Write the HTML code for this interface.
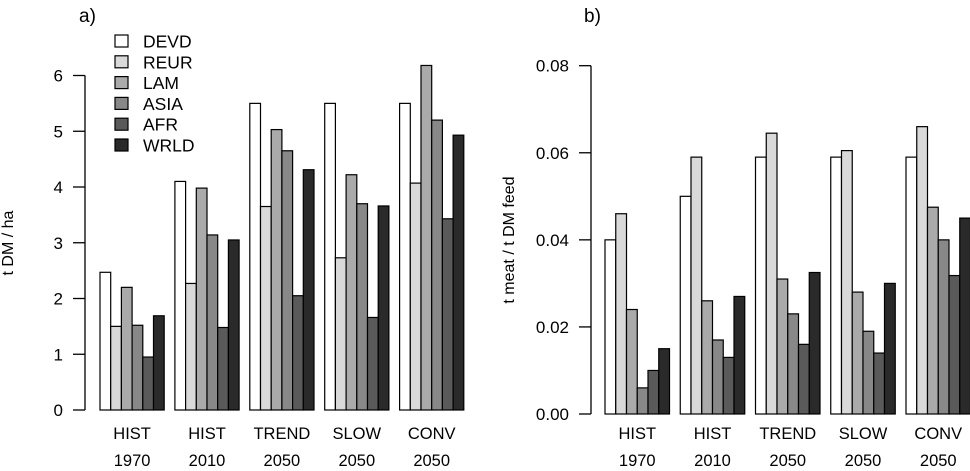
<!DOCTYPE html>
<html><head><meta charset="utf-8"><style>
body{margin:0;background:#fff}
svg text{font-family:"Liberation Sans",Arial,sans-serif;fill:#000}
</style></head><body>
<svg id="c" width="970" height="466" xmlns="http://www.w3.org/2000/svg"></svg>
<script>
const categories1=["HIST","HIST","TREND","SLOW","CONV"];
const categories2=["1970","2010","2050","2050","2050"];
const seriesNames=["DEVD","REUR","LAM","ASIA","AFR","WRLD"];
const yieldDEVD=[2.47,4.1,5.5,5.5,5.5];
const yieldREUR=[1.5,2.27,3.65,2.73,4.07];
const yieldLAM=[2.2,3.98,5.03,4.22,6.18];
const yieldASIA=[1.52,3.14,4.65,3.7,5.2];
const yieldAFR=[0.95,1.48,2.05,1.66,3.43];
const yieldWRLD=[1.69,3.05,4.31,3.66,4.93];
const effDEVD=[0.040,0.050,0.059,0.059,0.059];
const effREUR=[0.046,0.059,0.0645,0.0605,0.066];
const effLAM=[0.024,0.026,0.031,0.028,0.0475];
const effASIA=[0.006,0.017,0.023,0.019,0.040];
const effAFR=[0.010,0.013,0.016,0.014,0.0318];
const effWRLD=[0.015,0.027,0.0325,0.030,0.045];
const ticksA=["0","1","2","3","4","5","6"];
const ticksB=["0.00","0.02","0.04","0.06","0.08"];
const colors=["#ffffff","#d9d9d9","#aaaaaa","#888888","#5a5a5a","#2a2a2a"];
const svg=document.getElementById('c');
const NS="http://www.w3.org/2000/svg";
function mk(t,a,txt){const e=document.createElementNS(NS,t);for(const k in a)e.setAttribute(k,a[k]);if(txt!=null)e.textContent=txt;svg.appendChild(e);return e;}
function panel(p){
  const y=v=>p.y0-(v-p.vmin)/(p.vmax-p.vmin)*(p.y0-p.y1);
  const ax=mk('line',{x1:p.ax,x2:p.ax,y1:y(p.vmin),y2:y(p.vmax),stroke:'#000','stroke-width':1.3});
  
  
  p.ticks.forEach(t=>{
    const v=parseFloat(t);
    const tl=mk('line',{x1:p.ax-12,x2:p.ax,y1:y(v),y2:y(v),stroke:'#000','stroke-width':1.3});
    
    
    const tx=mk('text',{x:p.ax-22,y:y(v)+6,'text-anchor':'end','font-size':17},t);
    
    
  });
  const unit=p.unit;
  p.series.forEach((s,si)=>{
    s.forEach((v,gi)=>{
      const x=p.gx+gi*7*unit+si*unit;
      const r=mk('rect',{x:x,y:y(v),width:unit,height:y(p.vmin)-y(v),fill:colors[si],stroke:'#000','stroke-width':1.2});
      
      
    });
  });
  categories1.forEach((c,gi)=>{
    const cx=p.gx+gi*7*unit+3*unit;
    const t1=mk('text',{x:cx,y:439,'text-anchor':'middle','font-size':16.5},c);
    
    
    const t2=mk('text',{x:cx,y:466,'text-anchor':'middle','font-size':16.5},categories2[gi]);
    
    
  });
  const yt=mk('text',{x:p.tx,y:p.ty,'text-anchor':'middle','font-size':16,transform:'rotate(-90 '+p.tx+' '+p.ty+')'},p.title);
  
  
  const lb=mk('text',{x:p.lx,y:22,'font-size':19},p.label);
  
  
}
panel({id:'a',vmin:0,vmax:6,y0:410,y1:75.5,ax:85,gx:100,unit:10.7,ticks:ticksA,
  series:[yieldDEVD,yieldREUR,yieldLAM,yieldASIA,yieldAFR,yieldWRLD],title:'t DM / ha',tx:13,ty:243,label:'a)',lx:79});
panel({id:'b',vmin:0,vmax:0.08,y0:414,y1:65.7,ax:591,gx:605,unit:10.75,ticks:ticksB,
  series:[effDEVD,effREUR,effLAM,effASIA,effAFR,effWRLD],title:'t meat / t DM feed',tx:514,ty:240,label:'b)',lx:584});
seriesNames.forEach((n,i)=>{
  const yc=41+i*20.8;
  const r=mk('rect',{x:115,y:yc-6,width:13,height:12,fill:colors[i],stroke:'#000','stroke-width':1.2});
  
  
  const t=mk('text',{x:143,y:yc+6.5,'font-size':17.5},n);
  
  
});
</script>
</body></html>
